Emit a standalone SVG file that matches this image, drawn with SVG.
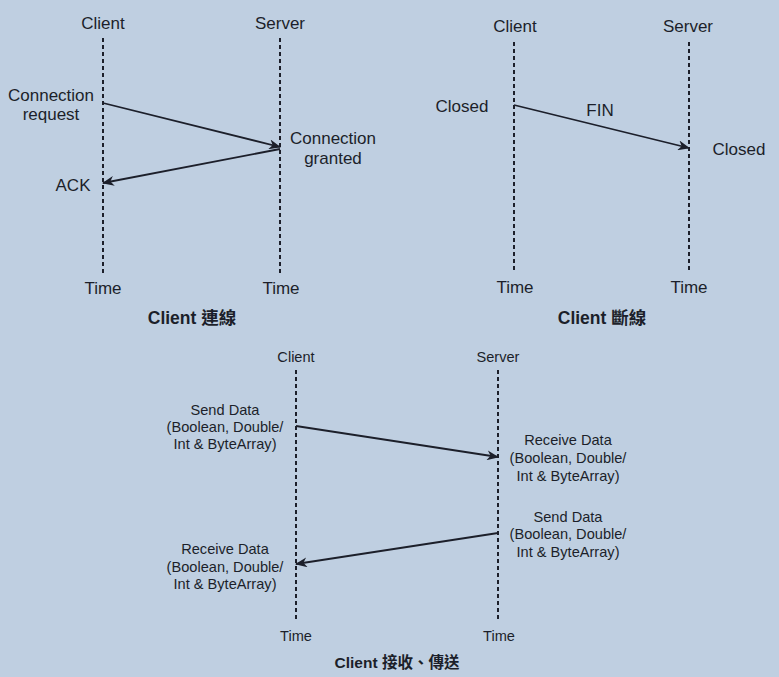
<svg xmlns="http://www.w3.org/2000/svg" width="779" height="677" viewBox="0 0 779 677">
<defs>
<style>
text{font-family:"Liberation Sans","Noto Sans CJK TC",sans-serif;fill:#1c1f2a;text-anchor:middle;dominant-baseline:central}
.t{font-size:17px}
.s{font-size:14.6px}
.b{font-weight:bold;font-size:17.5px}
.bs{font-weight:bold;font-size:15.5px}
.life{stroke:#1c1f2a;stroke-width:2;stroke-dasharray:4 3;fill:none}
.msg{stroke:#1c1f2a;stroke-width:1.8;fill:none;marker-end:url(#ah)}
</style>
<marker id="ah" viewBox="0 0 12 10" refX="11" refY="5" markerWidth="12" markerHeight="10" markerUnits="userSpaceOnUse" orient="auto">
<path d="M0,0 L12,5 L0,10 L3.5,5 z" fill="#1c1f2a"/>
</marker>
</defs>
<rect width="779" height="677" fill="#bfcfe1"/>

<g id="connect">
<g id="c1-client"><text class="t" x="103" y="23">Client</text><line class="life" x1="103" y1="38" x2="103" y2="274"/><text class="t" x="103" y="288">Time</text></g>
<g id="c1-server"><text class="t" x="280" y="23">Server</text><line class="life" x1="280" y1="38" x2="280" y2="274"/><text class="t" x="281" y="288">Time</text></g>
<g id="c1-req"><text class="t" x="51" y="95">Connection</text><text class="t" x="51" y="114">request</text></g>
<g id="c1-grant"><text class="t" x="333" y="138">Connection</text><text class="t" x="333" y="158">granted</text></g>
<g id="c1-ack"><text class="t" x="73" y="185">ACK</text></g>
<text class="b" x="192" y="318">Client 連線</text>
</g>

<g id="disconnect">
<g id="c2-client"><text class="t" x="515" y="26">Client</text><line class="life" x1="514" y1="42" x2="514" y2="273"/><text class="t" x="515" y="287">Time</text></g>
<g id="c2-server"><text class="t" x="688" y="26">Server</text><line class="life" x1="689" y1="42" x2="689" y2="273"/><text class="t" x="689" y="287">Time</text></g>
<g id="c2-closed1"><text class="t" x="462" y="106">Closed</text></g>
<g id="c2-fin"><text class="t" x="600" y="110">FIN</text></g>
<g id="c2-closed2"><text class="t" x="739" y="149">Closed</text></g>
<text class="b" x="602" y="318">Client 斷線</text>
</g>

<g id="data">
<g id="c3-client"><text class="s" x="296" y="357">Client</text><line class="life" x1="296" y1="370" x2="296" y2="622"/><text class="s" x="296" y="636">Time</text></g>
<g id="c3-server"><text class="s" x="498" y="357">Server</text><line class="life" x1="498" y1="370" x2="498" y2="622"/><text class="s" x="499" y="636">Time</text></g>
<g id="c3-send1"><text class="s" x="225" y="410">Send Data</text><text class="s" x="225" y="427">(Boolean, Double/</text><text class="s" x="225" y="444">Int &amp; ByteArray)</text></g>
<g id="c3-recv1"><text class="s" x="568" y="440">Receive Data</text><text class="s" x="568" y="458">(Boolean, Double/</text><text class="s" x="568" y="476">Int &amp; ByteArray)</text></g>
<g id="c3-send2"><text class="s" x="568" y="517">Send Data</text><text class="s" x="568" y="534">(Boolean, Double/</text><text class="s" x="568" y="552">Int &amp; ByteArray)</text></g>
<g id="c3-recv2"><text class="s" x="225" y="549">Receive Data</text><text class="s" x="225" y="567">(Boolean, Double/</text><text class="s" x="225" y="584">Int &amp; ByteArray)</text></g>
<text class="bs" x="397" y="662">Client 接收、傳送</text>
</g>

<g id="connectors">
<line class="msg" x1="103" y1="103" x2="280" y2="147"/>
<line class="msg" x1="280" y1="149" x2="103" y2="183"/>
<line class="msg" x1="514" y1="105" x2="689" y2="148"/>
<line class="msg" x1="296" y1="426" x2="498" y2="457"/>
<line class="msg" x1="498" y1="533" x2="296" y2="564"/>
</g>
</svg>
